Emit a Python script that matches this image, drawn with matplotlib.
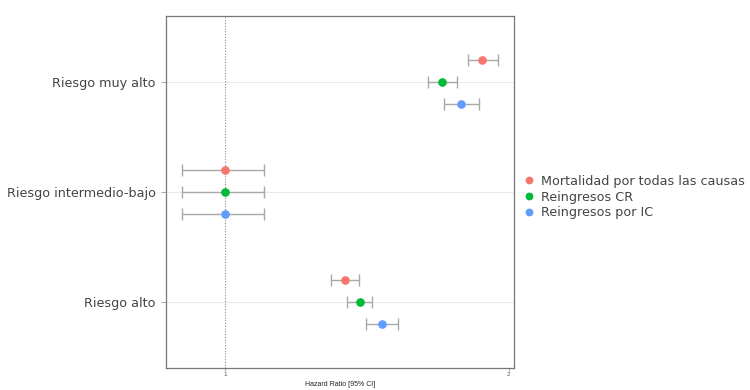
import matplotlib
matplotlib.use("Agg")
import matplotlib.pyplot as plt
from matplotlib.lines import Line2D

categories = ["Riesgo alto", "Riesgo intermedio-bajo", "Riesgo muy alto"]
series = ["Mortalidad por todas las causas", "Reingresos CR", "Reingresos por IC"]
colors = ["#F8766D", "#00BA38", "#619CFF"]

# hazard ratios per series, ordered as categories
hr = {
    "Mortalidad por todas las causas": [1.422, 1.0, 1.906],
    "Reingresos CR": [1.475, 1.0, 1.766],
    "Reingresos por IC": [1.552, 1.0, 1.832],
}
lo = {
    "Mortalidad por todas las causas": [1.373, 0.849, 1.855],
    "Reingresos CR": [1.430, 0.849, 1.716],
    "Reingresos por IC": [1.495, 0.849, 1.770],
}
hi = {
    "Mortalidad por todas las causas": [1.472, 1.136, 1.960],
    "Reingresos CR": [1.519, 1.136, 1.817],
    "Reingresos por IC": [1.610, 1.136, 1.894],
}
xticks = [1, 2]

fig = plt.figure(figsize=(7.5, 3.9), dpi=100)
ax = fig.add_axes([166/750, 1-368/390, (514-166)/750, (368-16)/390])

offsets = [0.2, 0.0, -0.2]
for s, c, off in zip(series, colors, offsets):
    ys = [i + 1 + off for i in range(len(categories))]
    x = hr[s]
    xerr = [[a - b for a, b in zip(x, lo[s])], [b - a for a, b in zip(x, hi[s])]]
    ax.errorbar(x, ys, xerr=xerr, fmt="none", ecolor="#a8a8a8", elinewidth=1.0,
                capsize=4, capthick=1.0, zorder=2)
    ax.plot(x, ys, "o", color=c, markersize=5.2, zorder=3, label=s)

ax.axvline(1, color="#888888", linestyle=(0, (1, 1.5)), linewidth=0.8, zorder=1)
for i in range(len(categories)):
    ax.axhline(i + 1, color="#ebebeb", linewidth=0.8, zorder=0)

ax.set_xlim(0.792, 2.018)
ax.set_ylim(0.4, 3.6)
ax.set_yticks([1, 2, 3])
ax.set_yticklabels(categories, fontsize=9.2, color="#444444")
ax.set_xticks(xticks)
ax.set_xticklabels([str(t) for t in xticks], fontsize=4.5, color="#555555",
                   family="Liberation Sans")
ax.tick_params(axis="y", length=3.5, color="#aaaaaa", pad=4)
ax.tick_params(axis="x", length=2, color="#aaaaaa", pad=1)
ax.set_xlabel("Hazard Ratio [95% CI]", fontsize=5, family="Liberation Sans",
              color="#222222", labelpad=3)
for sp in ax.spines.values():
    sp.set_color("#777777")
    sp.set_linewidth(0.9)

handles = [Line2D([0], [0], marker="o", linestyle="none", color=c, markersize=4.6)
           for c in colors]
fig.legend(handles, series, loc="center left", bbox_to_anchor=(515/750, 1-197/390),
           frameon=False, fontsize=9.2, labelcolor="#444444", handlelength=0.8,
           handletextpad=0.5, labelspacing=0.22, borderpad=0.2)

fig.savefig("out.png", dpi=100)
